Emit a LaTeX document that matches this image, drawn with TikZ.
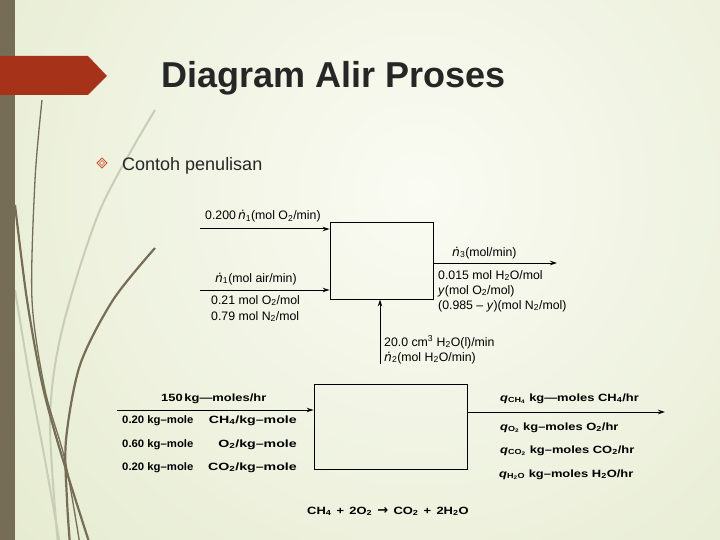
\documentclass[tikz,border=0pt]{standalone}
\usepackage{fontspec}
\setmainfont{Liberation Sans}
\newfontfamily\dvfont{DejaVu Sans}
\newfontfamily\bwide{Liberation Sans}[FakeStretch=1.23]
\newfontfamily\bwider{Liberation Sans}[FakeStretch=1.35]
\newfontfamily\bnarrow{Liberation Sans}[FakeStretch=1.05]
\newcommand\ndot{{\dvfont\itshape ṅ}}
\usetikzlibrary{arrows.meta}
\definecolor{bgin}{HTML}{FAFBF3}
\definecolor{bgout}{HTML}{DCE4C0}
\definecolor{barbrown}{HTML}{766D56}
\definecolor{bannerred}{HTML}{A6321A}
\definecolor{lightcurve}{HTML}{C9CDB6}
\definecolor{bulletc}{HTML}{C8562E}
\begin{document}
\begin{tikzpicture}[x=1pt,y=-1pt,
  arr/.style={-{Stealth[length=7pt,width=4.5pt]}, line width=1pt},
  procbox/.style={draw, line width=0.9pt, inner sep=0pt},
  lbl/.style={anchor=base west, inner sep=0pt, font=\fontsize{12.3}{14}\selectfont},
  blbl/.style={anchor=base west, inner sep=0pt, font=\bnarrow\fontsize{10.8}{12}\selectfont\bfseries},
  blble/.style={anchor=base east, inner sep=0pt, font=\bwider\fontsize{10.5}{12}\selectfont\bfseries},
  wlbl/.style={anchor=base west, inner sep=0pt, font=\bwide\fontsize{10.5}{12}\selectfont\bfseries},
  darkcurve/.style={barbrown, line width=2.2pt},
  thincurve/.style={barbrown, line width=1.3pt},
  lightc/.style={lightcurve, line width=2pt}]
\useasboundingbox (0,0) rectangle (720,540);
\begin{scope}
  \clip (0,0) rectangle (720,540);
  \shade[inner color=bgin, outer color=bgout] (420,190) circle (800pt);
  % decorative curves
  \draw[lightc] plot[smooth] coordinates {(155,110) (100,210) (62,330) (50,420) (58,545)};
  \draw[lightc] plot[smooth] coordinates {(15,290) (30,380) (45,460) (60,545)};
  \draw[thincurve] plot[smooth] coordinates {(42,100) (35,180) (32,300) (45,390) (65,460) (80,545)};
  \draw[darkcurve] plot[smooth] coordinates {(15,205) (27,300) (42,383) (60,450) (90,545)};
  \draw[darkcurve] plot[smooth] coordinates {(155,248) (113,300) (80,365) (66,440) (67,500) (70,545)};
\end{scope}
\fill[barbrown] (0,0) rectangle (15,540);
\fill[bannerred] (0,56) -- (88,56) -- (107,76) -- (88,95) -- (0,95) -- cycle;

\node[anchor=base west, inner sep=0pt, font=\fontsize{36}{40}\selectfont\bfseries, text=black!85] (title) at (161,88) {Diagram Alir Proses};

\draw[bulletc, line width=0.9pt] (97,163) -- (102,158) -- (107,163) -- (102,168) -- cycle;
\draw[bulletc, line width=0.7pt] (99.5,163) -- (102,160.5) -- (104.5,163) -- (102,165.5) -- cycle;
\node[anchor=base west, inner sep=0pt, font=\fontsize{18}{21}\selectfont, text=black!85] (subt) at (122,171) {Contoh penulisan};

% ---------- top diagram ----------
\node[procbox, minimum width=103pt, minimum height=77pt] (b1) at (381.5,260.5) {};
\coordinate (i1) at (200,229);
\coordinate (i2) at (200,290);
\coordinate (o1) at (557,263);
\coordinate (i3) at (380,364);
\draw[arr] (i1) -- (i1 -| b1.west);
\draw[arr] (i2) -- (i2 -| b1.west);
\draw[arr] (o1 -| b1.east) -- (o1);
\draw[arr] (i3) -- (i3 |- b1.south);

\node[lbl] (t1) at (205,220) {0.200\,\ndot\textsubscript{1}(mol O\textsubscript{2}/min)};
\node[lbl] (t2) at (215,282) {\ndot\textsubscript{1}(mol air/min)};
\node[lbl] (t3) at (211,304) {0.21 mol O\textsubscript{2}/mol};
\node[lbl] (t4) at (211,320) {0.79 mol N\textsubscript{2}/mol};
\node[lbl] (t5) at (452,256) {\ndot\textsubscript{3}(mol/min)};
\node[lbl] (t6) at (438,279) {0.015 mol H\textsubscript{2}O/mol};
\node[lbl] (t7) at (438,294) {\textit{y}(mol O\textsubscript{2}/mol)};
\node[lbl] (t8) at (438,309) {(0.985 – \textit{y})(mol N\textsubscript{2}/mol)};
\node[lbl] (t9) at (384,346) {20.0 cm\textsuperscript{3} H\textsubscript{2}O(l)/min};
\node[lbl] (t10) at (384,361) {\ndot\textsubscript{2}(mol H\textsubscript{2}O/min)};

% ---------- bottom diagram ----------
\node[procbox, minimum width=153pt, minimum height=85pt] (b2) at (390.5,426.5) {};
\coordinate (i4) at (117,410);
\coordinate (o4) at (665,412);
\draw[arr] (i4) -- (i4 -| b2.west);
\draw[arr] (o4 -| b2.east) -- (o4);

\node[wlbl] (s0) at (161,401) {150\,kg—moles/hr};
\node[blbl] (s1) at (122,423) {0.20 kg–mole};
\node[blble] (s1b) at (297,423) {CH\textsubscript{4}/kg–mole};
\node[blbl] (s2) at (122,447) {0.60 kg–mole};
\node[blble] (s2b) at (297,447) {O\textsubscript{2}/kg–mole};
\node[blbl] (s3) at (122,470) {0.20 kg–mole};
\node[blble] (s3b) at (297,470) {CO\textsubscript{2}/kg–mole};

\node[wlbl] (r1) at (500,401) {\textit{q}\textsubscript{CH\textsubscript{4}} kg—moles CH\textsubscript{4}/hr};
\node[wlbl] (r2) at (500,430) {\textit{q}\textsubscript{O\textsubscript{2}} kg–moles O\textsubscript{2}/hr};
\node[wlbl] (r3) at (500,453) {\textit{q}\textsubscript{CO\textsubscript{2}} kg–moles CO\textsubscript{2}/hr};
\node[wlbl] (r4) at (499,477) {\textit{q}\textsubscript{H\textsubscript{2}O} kg–moles H\textsubscript{2}O/hr};

\node[wlbl] (eq) at (307,514) {CH\textsubscript{4}\enspace+\enspace2O\textsubscript{2}\enspace{\dvfont\bfseries\fontsize{13}{14}\selectfont →}\enspace CO\textsubscript{2}\enspace+\enspace2H\textsubscript{2}O};
\end{tikzpicture}
\end{document}
